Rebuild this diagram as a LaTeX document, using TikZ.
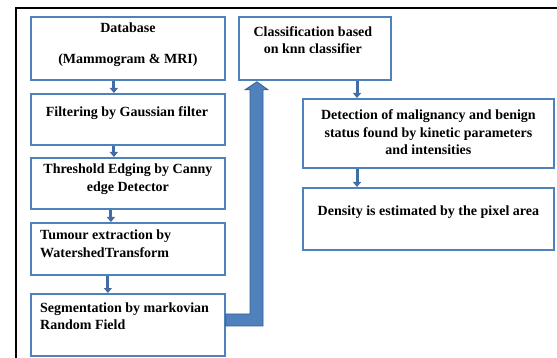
\documentclass[tikz,border=0pt]{standalone}
\usepackage{fontspec}
\setmainfont{Liberation Serif}[BoldFont={Liberation Serif Bold}]
\usetikzlibrary{positioning, arrows.meta, calc}
\definecolor{boxblue}{RGB}{79,129,189}
\definecolor{edgeblue}{RGB}{56,93,138}
\definecolor{tipblue}{RGB}{66,108,165}
\tikzset{
  stepbox/.style={rectangle, draw=boxblue, fill=white, line width=1.8pt,
    inner sep=0pt, anchor=north west},
  txt/.style={font=\rmfamily\bfseries\fontsize{14}{17.5}\selectfont, inner sep=0pt, align=center},
  ltxt/.style={font=\rmfamily\bfseries\fontsize{14}{17.5}\selectfont, inner sep=0pt, align=left, anchor=west},
  flow/.style={-{Triangle[width=8pt,length=5pt]}, tipblue, line width=3pt},
  bigflow/.style={fill=boxblue, draw=edgeblue, line width=0.8pt, line join=miter}
}

\begin{document}
\begin{tikzpicture}[x=1pt, y=-1pt]
  \useasboundingbox (0,0) rectangle (557,358);

  % frame
  \draw[line width=2pt] (16,358) -- (16,8) -- (557,8);

  % left column
  \node[stepbox, minimum width=194pt, minimum height=63pt] (db) at (30,16) {};
  \node[stepbox, minimum width=194pt, minimum height=51pt] (filt) at (30,93) {};
  \node[stepbox, minimum width=194pt, minimum height=51pt] (thr) at (30,157) {};
  \node[stepbox, minimum width=194pt, minimum height=52pt] (tum) at (30,222) {};
  \node[stepbox, minimum width=194pt, minimum height=62pt] (seg) at (30,293) {};

  % right part
  \node[stepbox, minimum width=152pt, minimum height=63pt] (cls) at (238,16) {};
  \node[stepbox, minimum width=251pt, minimum height=69pt] (det) at (302,98) {};
  \node[stepbox, minimum width=251pt, minimum height=62pt] (dens) at (302,187) {};

  % texts
  \node[txt] (db-t) at ([yshift=-28.5pt]db.north) {Database\\[13.5pt](Mammogram \& MRI)};
  \node[txt] (filt-t) at ([xshift=-1pt, yshift=-20pt]filt.north) {Filtering by Gaussian filter};
  \node[txt] (thr-t) at ([yshift=-22pt]thr.north) {Threshold Edging by Canny\\edge Detector};
  \node[ltxt] (tum-t) at ([xshift=10pt, yshift=-21.5pt]tum.north west) {Tumour extraction by\\WatershedTransform};
  \node[ltxt] (seg-t) at ([xshift=10pt, yshift=-23pt]seg.north west) {Segmentation by markovian\\Random Field};
  \node[txt] (cls-t) at ([xshift=-2pt, yshift=-24pt]cls.north) {Classification based\\on knn classifier};
  \node[txt] (det-t) at ([yshift=-34.5pt]det.north) {Detection of malignancy and benign\\status found by kinetic parameters\\and intensities};
  \node[txt] (dens-t) at ([yshift=-25pt]dens.north) {Density is estimated by the pixel area};

  % small arrows
  \draw[flow] ([xshift=-14pt]db.south) -- ([xshift=-14pt]filt.north);
  \draw[flow] ([xshift=-14pt]filt.south) -- ([xshift=-14pt]thr.north);
  \draw[flow] ([xshift=-17pt]thr.south) -- ([xshift=-17pt]tum.north);
  \draw[flow] ([xshift=-20pt]tum.south) -- ([xshift=-20pt]seg.north);
  \coordinate (col) at (357,0);
  \draw[flow] (cls.south -| col) -- (det.north -| col);
  \draw[flow] (det.south -| col) -- (dens.north -| col);

  % bent arrow back up
  \filldraw[bigflow]
    ([yshift=-1pt]seg.east) -| ([xshift=25pt, yshift=-9pt]cls.south west)
    -- ++(5,0) -- ([xshift=19pt, yshift=-1pt]cls.south west)
    -- ([xshift=7pt, yshift=-9pt]cls.south west)
    -- ++(5,0) |- ([yshift=11pt]seg.east) -- cycle;
\end{tikzpicture}
\end{document}
